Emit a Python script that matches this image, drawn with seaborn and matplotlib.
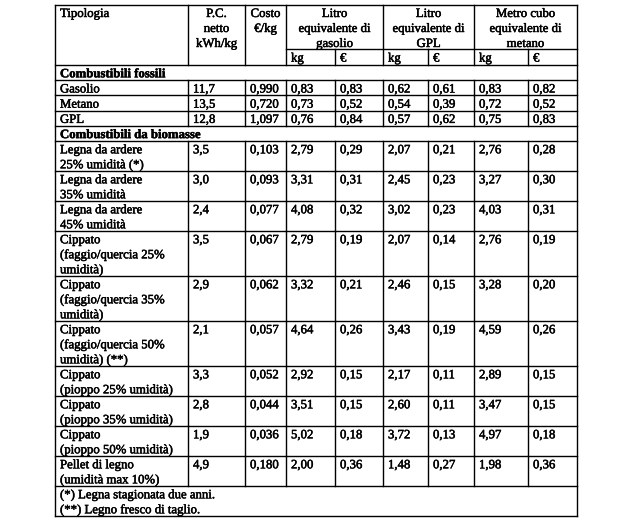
import matplotlib
matplotlib.use("Agg")
import matplotlib.pyplot as plt
import matplotlib.patheffects as pe
import seaborn as sns

# ---------------- data ----------------
header_tipologia = "Tipologia"
header_pc = ["P.C.", "netto", "kWh/kg"]
header_costo = ["Costo", "€/kg"]
group_headers = [
    ["Litro", "equivalente di", "gasolio"],
    ["Litro", "equivalente di", "GPL"],
    ["Metro cubo", "equivalente di", "metano"],
]
sub_headers = ["kg", "€"]

section_fossili = "Combustibili fossili"
fossil_names = ["Gasolio", "Metano", "GPL"]
fossil_pc = [11.7, 13.5, 12.8]
fossil_costo = [0.990, 0.720, 1.097]
fossil_gasolio_kg = [0.83, 0.73, 0.76]
fossil_gasolio_eur = [0.83, 0.52, 0.84]
fossil_gpl_kg = [0.62, 0.54, 0.57]
fossil_gpl_eur = [0.61, 0.39, 0.62]
fossil_metano_kg = [0.83, 0.72, 0.75]
fossil_metano_eur = [0.82, 0.52, 0.83]

section_biomasse = "Combustibili da biomasse"
bio_names = [
    "Legna da ardere\n25% umidità (*)",
    "Legna da ardere\n35% umidità",
    "Legna da ardere\n45% umidità",
    "Cippato\n(faggio/quercia 25%\numidità)",
    "Cippato\n(faggio/quercia 35%\numidità)",
    "Cippato\n(faggio/quercia 50%\numidità) (**)",
    "Cippato\n(pioppo 25% umidità)",
    "Cippato\n(pioppo 35% umidità)",
    "Cippato\n(pioppo 50% umidità)",
    "Pellet di legno\n(umidità max 10%)",
]
bio_pc = [3.5, 3.0, 2.4, 3.5, 2.9, 2.1, 3.3, 2.8, 1.9, 4.9]
bio_costo = [0.103, 0.093, 0.077, 0.067, 0.062, 0.057, 0.052, 0.044, 0.036, 0.180]
bio_gasolio_kg = [2.79, 3.31, 4.08, 2.79, 3.32, 4.64, 2.92, 3.51, 5.02, 2.00]
bio_gasolio_eur = [0.29, 0.31, 0.32, 0.19, 0.21, 0.26, 0.15, 0.15, 0.18, 0.36]
bio_gpl_kg = [2.07, 2.45, 3.02, 2.07, 2.46, 3.43, 2.17, 2.60, 3.72, 1.48]
bio_gpl_eur = [0.21, 0.23, 0.23, 0.14, 0.15, 0.19, 0.11, 0.11, 0.13, 0.27]
bio_metano_kg = [2.76, 3.27, 4.03, 2.76, 3.28, 4.59, 2.89, 3.47, 4.97, 1.98]
bio_metano_eur = [0.28, 0.30, 0.31, 0.19, 0.20, 0.26, 0.15, 0.15, 0.18, 0.36]

footnotes = ["(*) Legna stagionata due anni.", "(**) Legno fresco di taglio."]

decimals = [1, 3, 2, 2, 2, 2, 2, 2]

# ---------------- style ----------------
sns.set_theme(style="white")
plt.rcParams["font.family"] = ["Liberation Serif", "DejaVu Serif"]
FS = 9.2
LW = 1.0
TEXT_FX = [pe.withStroke(linewidth=0.35, foreground="black")]

fig = plt.figure(figsize=(6.36, 5.19), dpi=100)
ax = fig.add_axes([0, 0, 1, 1])
ax.set_xlim(0, 636)
ax.set_ylim(519, 0)
ax.axis("off")

# layout (pixels)
col_x = [55, 188, 245, 286, 335, 383, 428, 474, 528, 577]
LINE = 15.0
PAD_X = 5
BASE = 12.3


def fmt(v, d):
    return f"{v:.{d}f}".replace(".", ",")


def hline(y, x0=col_x[0], x1=col_x[-1]):
    ax.plot([x0, x1], [y, y], color="black", lw=LW, solid_capstyle="projecting")


def vline(x, y0, y1):
    ax.plot([x, x], [y0, y1], color="black", lw=LW, solid_capstyle="projecting")


def text_lines(lines, x, top, ha="left", bold=False):
    for i, s in enumerate(lines):
        ax.text(x, top + BASE + i * LINE, s, ha=ha, va="baseline", fontsize=FS,
                fontweight="bold" if bold else "normal", color="black",
                path_effects=TEXT_FX)


# header
h_top = 4.7
h_sub = 49.3
h_bot = 65.0
hline(h_top)
text_lines([header_tipologia], col_x[0] + PAD_X, h_top)
text_lines(header_pc, (col_x[1] + col_x[2]) / 2, h_top, ha="center")
text_lines(header_costo, (col_x[2] + col_x[3]) / 2, h_top, ha="center")
for g, lines in enumerate(group_headers):
    xa, xb = col_x[3 + 2 * g], col_x[5 + 2 * g]
    text_lines(lines, (xa + xb) / 2, h_top, ha="center")
    for k, sh in enumerate(sub_headers):
        text_lines([sh], col_x[3 + 2 * g + k] + PAD_X, h_sub)
    vline(col_x[4 + 2 * g], h_sub, h_bot)
hline(h_sub, col_x[3], col_x[-1])
for x in [col_x[1], col_x[2], col_x[3], col_x[5], col_x[7]]:
    vline(x, h_top, h_bot)
hline(h_bot)


def section(title, y):
    text_lines([title], col_x[0] + PAD_X, y, bold=True)
    y2 = y + LINE + 0.2
    hline(y2)
    return y2


def data_rows(names, cols, y):
    for i, name in enumerate(names):
        lines = name.split("\n")
        h = LINE * len(lines) + (0.2 if len(lines) == 1 else 0)
        text_lines(lines, col_x[0] + PAD_X, y)
        for c, (vals, d) in enumerate(zip(cols, decimals)):
            text_lines([fmt(vals[i], d)], col_x[c + 1] + PAD_X, y)
        for x in col_x[1:-1]:
            vline(x, y, y + h)
        y += h
        hline(y)
    return y


y = section(section_fossili, h_bot)
y = data_rows(fossil_names, [fossil_pc, fossil_costo, fossil_gasolio_kg, fossil_gasolio_eur,
                             fossil_gpl_kg, fossil_gpl_eur, fossil_metano_kg, fossil_metano_eur], y)
y = section(section_biomasse, y)
y = data_rows(bio_names, [bio_pc, bio_costo, bio_gasolio_kg, bio_gasolio_eur,
                          bio_gpl_kg, bio_gpl_eur, bio_metano_kg, bio_metano_eur], y)
text_lines(footnotes, col_x[0] + PAD_X, y)
y_end = y + LINE * len(footnotes)
hline(y_end)
vline(col_x[0], h_top, y_end)
vline(col_x[-1], h_top, y_end)

fig.savefig("out.png", dpi=100, facecolor="white")
